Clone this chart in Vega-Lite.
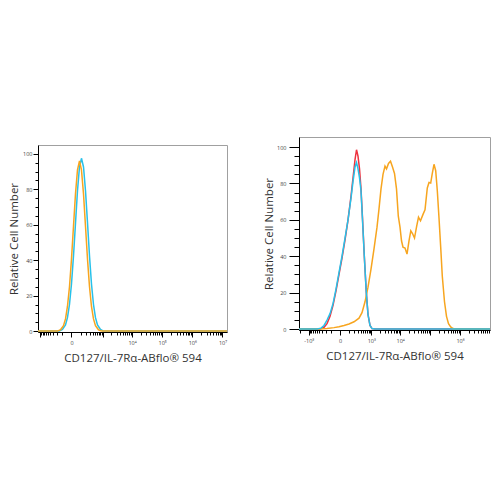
{
  "$schema": "https://vega.github.io/schema/vega-lite/v6.json",
  "padding": {"left": 8, "top": 136, "right": 0, "bottom": 0},
  "spacing": 32,
  "config": {
    "view": {"stroke": "#a0a0a0"},
    "font": "Open Sans",
    "axis": {
      "grid": false,
      "domainColor": "#000000",
      "tickColor": "#000000",
      "labelColor": "#444444",
      "labelFontSize": 5.5,
      "labelOverlap": false,
      "labelFlush": false,
      "labelBound": false,
      "titleFontWeight": "normal",
      "titleColor": "#333333"
    }
  },
  "datasets": {
    "left": [
      {"s": "cyan", "x": -1185, "y": 0},
      {"s": "cyan", "x": -150, "y": 0},
      {"s": "cyan", "x": -99, "y": 0.9},
      {"s": "cyan", "x": -58, "y": 3.5},
      {"s": "cyan", "x": -36, "y": 7.6},
      {"s": "cyan", "x": -16.5, "y": 15.0},
      {"s": "cyan", "x": 0, "y": 26.6},
      {"s": "cyan", "x": 16.5, "y": 42.4},
      {"s": "cyan", "x": 36, "y": 61.1},
      {"s": "cyan", "x": 58, "y": 79.2},
      {"s": "cyan", "x": 84, "y": 92.6},
      {"s": "cyan", "x": 114, "y": 97.5},
      {"s": "cyan", "x": 150, "y": 92.6},
      {"s": "cyan", "x": 191, "y": 79.2},
      {"s": "cyan", "x": 239, "y": 61.1},
      {"s": "cyan", "x": 295, "y": 42.4},
      {"s": "cyan", "x": 359, "y": 26.6},
      {"s": "cyan", "x": 435, "y": 15.0},
      {"s": "cyan", "x": 523, "y": 7.6},
      {"s": "cyan", "x": 626, "y": 3.5},
      {"s": "cyan", "x": 812, "y": 0.9},
      {"s": "cyan", "x": 1047, "y": 0},
      {"s": "cyan", "x": 14100000, "y": 0},
      {"s": "orange", "x": -1185, "y": 0},
      {"s": "orange", "x": -191, "y": 0},
      {"s": "orange", "x": -131, "y": 0.75},
      {"s": "orange", "x": -84, "y": 3.1},
      {"s": "orange", "x": -58, "y": 6.9},
      {"s": "orange", "x": -36, "y": 13.9},
      {"s": "orange", "x": -16.5, "y": 25.0},
      {"s": "orange", "x": 0, "y": 40.6},
      {"s": "orange", "x": 16.5, "y": 59.2},
      {"s": "orange", "x": 35.6, "y": 77.4},
      {"s": "orange", "x": 58, "y": 91.0},
      {"s": "orange", "x": 84, "y": 96.0},
      {"s": "orange", "x": 114, "y": 91.0},
      {"s": "orange", "x": 150, "y": 77.4},
      {"s": "orange", "x": 191, "y": 59.2},
      {"s": "orange", "x": 239, "y": 40.6},
      {"s": "orange", "x": 295, "y": 25.0},
      {"s": "orange", "x": 359, "y": 13.9},
      {"s": "orange", "x": 435, "y": 6.9},
      {"s": "orange", "x": 523, "y": 3.1},
      {"s": "orange", "x": 683, "y": 0.75},
      {"s": "orange", "x": 884, "y": 0},
      {"s": "orange", "x": 14100000, "y": 0}
    ],
    "right": [
      {"s": "red", "x": -2228, "y": 0},
      {"s": "red", "x": -364, "y": 0},
      {"s": "red", "x": -241, "y": 1},
      {"s": "red", "x": -171, "y": 3},
      {"s": "red", "x": -115, "y": 7},
      {"s": "red", "x": -71, "y": 13},
      {"s": "red", "x": -36, "y": 21},
      {"s": "red", "x": -8, "y": 30},
      {"s": "red", "x": 16.6, "y": 39},
      {"s": "red", "x": 47, "y": 49},
      {"s": "red", "x": 85, "y": 60},
      {"s": "red", "x": 133, "y": 73},
      {"s": "red", "x": 171, "y": 83},
      {"s": "red", "x": 216, "y": 93},
      {"s": "red", "x": 255, "y": 98.5},
      {"s": "red", "x": 298, "y": 95},
      {"s": "red", "x": 347, "y": 88},
      {"s": "red", "x": 401, "y": 77},
      {"s": "red", "x": 462, "y": 61},
      {"s": "red", "x": 546, "y": 40},
      {"s": "red", "x": 653, "y": 20},
      {"s": "red", "x": 758, "y": 8},
      {"s": "red", "x": 900, "y": 2},
      {"s": "red", "x": 1066, "y": 0.3},
      {"s": "red", "x": 1368, "y": 0},
      {"s": "red", "x": 10000000, "y": 0},
      {"s": "cyan", "x": -2228, "y": 0},
      {"s": "cyan", "x": -485, "y": 0},
      {"s": "cyan", "x": -330, "y": 0.5},
      {"s": "cyan", "x": -241, "y": 2},
      {"s": "cyan", "x": -171, "y": 5},
      {"s": "cyan", "x": -115, "y": 8.5},
      {"s": "cyan", "x": -71, "y": 14},
      {"s": "cyan", "x": -36, "y": 22},
      {"s": "cyan", "x": -8, "y": 31},
      {"s": "cyan", "x": 16.6, "y": 40},
      {"s": "cyan", "x": 47, "y": 50},
      {"s": "cyan", "x": 85, "y": 60},
      {"s": "cyan", "x": 133, "y": 72},
      {"s": "cyan", "x": 171, "y": 81},
      {"s": "cyan", "x": 216, "y": 89},
      {"s": "cyan", "x": 255, "y": 91.5},
      {"s": "cyan", "x": 298, "y": 88},
      {"s": "cyan", "x": 347, "y": 83},
      {"s": "cyan", "x": 401, "y": 76},
      {"s": "cyan", "x": 462, "y": 60},
      {"s": "cyan", "x": 546, "y": 40},
      {"s": "cyan", "x": 653, "y": 20},
      {"s": "cyan", "x": 758, "y": 8},
      {"s": "cyan", "x": 900, "y": 2},
      {"s": "cyan", "x": 1066, "y": 0.3},
      {"s": "cyan", "x": 1368, "y": 0},
      {"s": "cyan", "x": 10000000, "y": 0},
      {"s": "orange", "x": -2228, "y": 0},
      {"s": "orange", "x": -401, "y": 0},
      {"s": "orange", "x": -171, "y": 0.3},
      {"s": "orange", "x": -58.5, "y": 0.8},
      {"s": "orange", "x": -8, "y": 1.3},
      {"s": "orange", "x": 36, "y": 2},
      {"s": "orange", "x": 99.5, "y": 2.8},
      {"s": "orange", "x": 193, "y": 4},
      {"s": "orange", "x": 330, "y": 6},
      {"s": "orange", "x": 441, "y": 9},
      {"s": "orange", "x": 581, "y": 15},
      {"s": "orange", "x": 758, "y": 23},
      {"s": "orange", "x": 980, "y": 33},
      {"s": "orange", "x": 1259, "y": 44},
      {"s": "orange", "x": 1612, "y": 56},
      {"s": "orange", "x": 1895, "y": 66},
      {"s": "orange", "x": 2227, "y": 77},
      {"s": "orange", "x": 2613, "y": 85},
      {"s": "orange", "x": 3062, "y": 89.5},
      {"s": "orange", "x": 3448, "y": 88},
      {"s": "orange", "x": 4037, "y": 91},
      {"s": "orange", "x": 4725, "y": 92.2},
      {"s": "orange", "x": 5523, "y": 89},
      {"s": "orange", "x": 6457, "y": 85.5},
      {"s": "orange", "x": 7543, "y": 77},
      {"s": "orange", "x": 8679, "y": 62},
      {"s": "orange", "x": 9900, "y": 56},
      {"s": "orange", "x": 11120, "y": 48.5},
      {"s": "orange", "x": 12490, "y": 45},
      {"s": "orange", "x": 14580, "y": 44.5},
      {"s": "orange", "x": 17020, "y": 41.2},
      {"s": "orange", "x": 19850, "y": 48.5},
      {"s": "orange", "x": 22810, "y": 54},
      {"s": "orange", "x": 26000, "y": 52.5},
      {"s": "orange", "x": 30330, "y": 50},
      {"s": "orange", "x": 35380, "y": 56},
      {"s": "orange", "x": 41280, "y": 61.5},
      {"s": "orange", "x": 48150, "y": 59.5},
      {"s": "orange", "x": 58360, "y": 63},
      {"s": "orange", "x": 68030, "y": 65.5},
      {"s": "orange", "x": 81180, "y": 77.5},
      {"s": "orange", "x": 92500, "y": 80.5},
      {"s": "orange", "x": 105400, "y": 80.2},
      {"s": "orange", "x": 119200, "y": 85.5},
      {"s": "orange", "x": 135800, "y": 90.5},
      {"s": "orange", "x": 154800, "y": 87},
      {"s": "orange", "x": 175100, "y": 76},
      {"s": "orange", "x": 199400, "y": 61},
      {"s": "orange", "x": 227200, "y": 45},
      {"s": "orange", "x": 256900, "y": 29},
      {"s": "orange", "x": 304200, "y": 15},
      {"s": "orange", "x": 354700, "y": 7},
      {"s": "orange", "x": 413600, "y": 3},
      {"s": "orange", "x": 489700, "y": 1.2},
      {"s": "orange", "x": 584500, "y": 0.3},
      {"s": "orange", "x": 681200, "y": 0},
      {"s": "orange", "x": 10000000, "y": 0}
    ]
  },
  "hconcat": [
    {
      "spacing": 6,
      "vconcat": [
        {
          "width": 1,
          "height": 1,
          "view": {"stroke": null},
          "data": {"values": []},
          "mark": "point"
        },
        {
          "width": 189,
          "height": 187,
          "data": {"name": "left"},
          "encoding": {
            "x": {
              "field": "x",
              "type": "quantitative",
              "scale": {"type": "symlog", "constant": 100, "domain": [-1185, 14100000], "nice": false, "zero": false},
              "title": "CD127/IL-7Rα-ABflo® 594",
              "axis": {
                "values": [-1000, -900, -800, -700, -600, -500, -400, -300, -200, -100, 0, 100, 200, 300, 400, 500, 600, 700, 800, 900, 1000, 2000, 3000, 4000, 5000, 6000, 7000, 8000, 9000, 10000, 20000, 30000, 40000, 50000, 60000, 70000, 80000, 90000, 100000, 200000, 300000, 400000, 500000, 600000, 700000, 800000, 900000, 1000000, 2000000, 3000000, 4000000, 5000000, 6000000, 7000000, 8000000, 9000000, 10000000],
                "labelExpr": "datum.value == 0 ? '0' : datum.value == 10000 ? '10⁴' : datum.value == 100000 ? '10⁵' : datum.value == 1000000 ? '10⁶' : datum.value == 10000000 ? '10⁷' : ''",
                "tickSize": {"condition": {"test": "indexof([-1000, 0, 1000, 10000, 100000, 1000000, 10000000], datum.value) >= 0", "value": 5}, "value": 3},
                "labelPadding": 3,
                "titleFontSize": 11.5,
                "titlePadding": 7
              }
            },
            "y": {
              "field": "y",
              "type": "quantitative",
              "scale": {"domain": [-0.5, 105], "nice": false, "zero": false},
              "title": "Relative Cell Number",
              "axis": {
                "values": [0, 5, 10, 15, 20, 25, 30, 35, 40, 45, 50, 55, 60, 65, 70, 75, 80, 85, 90, 95, 100],
                "labelExpr": "datum.value % 20 == 0 ? datum.label : ''",
                "tickSize": {"condition": {"test": "datum.value % 20 == 0", "value": 5}, "value": 3},
                "labelPadding": 1,
                "titleFontSize": 11.5,
                "titlePadding": 3
              }
            }
          },
          "layer": [
            {"transform": [{"filter": "datum.s == 'cyan'"}], "mark": {"type": "line", "color": "#27c1ea", "strokeWidth": 1.5}},
            {"transform": [{"filter": "datum.s == 'orange'"}], "mark": {"type": "line", "color": "#f7a51f", "strokeWidth": 1.5}}
          ]
        }
      ]
    },
    {
      "width": 191,
      "height": 193,
      "data": {"name": "right"},
      "encoding": {
        "x": {
          "field": "x",
          "type": "quantitative",
          "scale": {"type": "symlog", "constant": 100, "domain": [-2228, 10000000], "nice": false, "zero": false},
          "title": "CD127/IL-7Rα-ABflo® 594",
          "axis": {
            "values": [-2000, -1000, -900, -800, -700, -600, -500, -400, -300, -200, -100, 0, 100, 200, 300, 400, 500, 600, 700, 800, 900, 1000, 2000, 3000, 4000, 5000, 6000, 7000, 8000, 9000, 10000, 20000, 30000, 40000, 50000, 60000, 70000, 80000, 90000, 100000, 200000, 300000, 400000, 500000, 600000, 700000, 800000, 900000, 1000000, 2000000, 3000000, 4000000, 5000000, 6000000, 7000000, 8000000, 9000000],
            "labelExpr": "datum.value == -1000 ? '-10³' : datum.value == 0 ? '0' : datum.value == 1000 ? '10³' : datum.value == 10000 ? '10⁴' : datum.value == 1000000 ? '10⁶' : ''",
            "tickSize": {"condition": {"test": "indexof([-1000, 0, 1000, 10000, 100000, 1000000], datum.value) >= 0", "value": 5}, "value": 3},
            "labelPadding": 3,
            "titleFontSize": 11.5,
            "titlePadding": 7
          }
        },
        "y": {
          "field": "y",
          "type": "quantitative",
          "scale": {"domain": [-0.5, 105.5], "nice": false, "zero": false},
          "title": "Relative Cell Number",
          "axis": {
            "values": [0, 5, 10, 15, 20, 25, 30, 35, 40, 45, 50, 55, 60, 65, 70, 75, 80, 85, 90, 95, 100],
            "labelExpr": "datum.value % 20 == 0 ? datum.label : ''",
            "tickSize": {"condition": {"test": "datum.value % 20 == 0", "value": 10}, "value": 5},
            "labelPadding": 3,
            "titleFontSize": 11.5,
            "titlePadding": 2
          }
        }
      },
      "layer": [
        {"transform": [{"filter": "datum.s == 'red'"}], "mark": {"type": "line", "color": "#ee3340", "strokeWidth": 1.5}},
        {"transform": [{"filter": "datum.s == 'orange'"}], "mark": {"type": "line", "color": "#f7a51f", "strokeWidth": 1.5}},
        {"transform": [{"filter": "datum.s == 'cyan'"}], "mark": {"type": "line", "color": "#27c1ea", "strokeWidth": 1.5}}
      ]
    }
  ]
}
